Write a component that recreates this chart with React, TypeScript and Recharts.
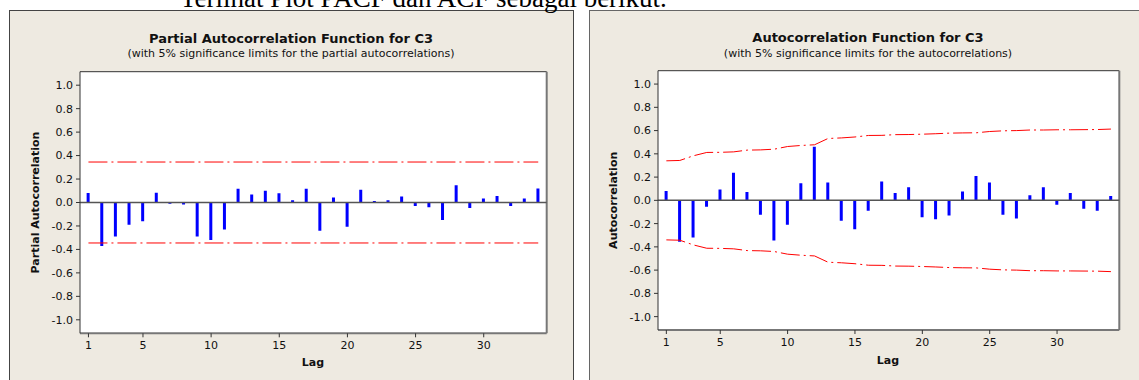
import React from "react";
import {
  ComposedChart,
  Bar,
  Line,
  XAxis,
  YAxis,
  ReferenceLine,
  ReferenceArea,
} from "recharts";

// lags 1..34
const lags = [
  1, 2, 3, 4, 5, 6, 7, 8, 9, 10, 11, 12, 13, 14, 15, 16, 17,
  18, 19, 20, 21, 22, 23, 24, 25, 26, 27, 28, 29, 30, 31, 32, 33, 34,
];

const pacfValues = [
  0.08, -0.37, -0.29, -0.19, -0.16, 0.083, -0.01, -0.017, -0.29, -0.32, -0.23,
  0.118, 0.069, 0.1, 0.078, 0.02, 0.118, -0.24, 0.043, -0.207, 0.109, 0.012,
  0.02, 0.052, -0.029, -0.04, -0.15, 0.147, -0.046, 0.034, 0.055, -0.029, 0.034,
  0.12,
];

const acfValues = [
  0.08, -0.355, -0.32, -0.054, 0.094, 0.237, 0.072, -0.123, -0.346, -0.209,
  0.146, 0.46, 0.154, -0.175, -0.249, -0.089, 0.163, 0.063, 0.112, -0.146,
  -0.163, -0.131, 0.077, 0.209, 0.154, -0.123, -0.157, 0.043, 0.112, -0.037,
  0.063, -0.072, -0.089, 0.037,
];

// 5% significance limit of the ACF, per lag
const acfLimits = [
  0.34, 0.343, 0.383, 0.412, 0.413, 0.417, 0.432, 0.434, 0.44, 0.463, 0.472,
  0.478, 0.532, 0.537, 0.545, 0.558, 0.559, 0.565, 0.566, 0.569, 0.573, 0.578,
  0.58, 0.581, 0.592, 0.598, 0.6, 0.605, 0.605, 0.607, 0.607, 0.608, 0.609,
  0.613,
];

const pacfLimit = 0.345;

const xTicks = [1, 5, 10, 15, 20, 25, 30];
const yTicks = [-1.0, -0.8, -0.6, -0.4, -0.2, 0.0, 0.2, 0.4, 0.6, 0.8, 1.0];

const xDomain: [number, number] = [0.38, 34.62];
const yDomain: [number, number] = [-1.115, 1.115];

const FONT = "DejaVu Sans";
const PANEL_BG = "#EEEAE1";
const DASH = "19 4 2 4";

const pacfData = lags.map((lag, i) => ({ lag, v: pacfValues[i] }));
const acfData = lags.map((lag, i) => ({
  lag,
  v: acfValues[i],
  upper: acfLimits[i],
  lower: -acfLimits[i],
}));

interface PlotProps {
  data: any[];
  width: number;
  margin: { top: number; right: number; bottom: number; left: number };
  yAxisWidth: number;
  xAxisHeight: number;
  children?: React.ReactNode;
}

const CorrPlot: React.FC<PlotProps> = ({ data, width, margin, yAxisWidth, xAxisHeight, children }) => {
  return (
    <ComposedChart width={width} height={380} data={data} margin={margin}>
      <XAxis
        dataKey="lag"
        type="number"
        domain={xDomain}
        ticks={xTicks}
        interval={0}
        allowDataOverflow
        height={xAxisHeight}
        tickSize={4}
        tickMargin={4}
        axisLine={{ stroke: "#777", strokeWidth: 2 }}
        tickLine={{ stroke: "#333" }}
        tick={{ fontSize: 11, fill: "#111", fontFamily: FONT }}
      />
      <YAxis
        type="number"
        domain={yDomain}
        ticks={yTicks}
        interval={0}
        allowDataOverflow
        width={yAxisWidth}
        tickSize={4}
        tickMargin={3}
        tickFormatter={(v: number) => v.toFixed(1)}
        axisLine={{ stroke: "#333" }}
        tickLine={{ stroke: "#333" }}
        tick={{ fontSize: 11, fill: "#111", fontFamily: FONT }}
      />
      <ReferenceArea
        x1={xDomain[0]}
        x2={xDomain[1]}
        y1={yDomain[0]}
        y2={yDomain[1]}
        fill="#ffffff"
        fillOpacity={1}
        stroke="none"
      />
      <ReferenceLine y={yDomain[1]} stroke="#333" strokeWidth={1} />
      <ReferenceLine x={xDomain[1]} stroke="#777" strokeWidth={2} />
      <ReferenceLine y={0} stroke="#555" strokeWidth={1.5} />
      <Bar dataKey="v" fill="#0000FF" barSize={3} isAnimationActive={false} />
      {children}
    </ComposedChart>
  );
};

export default function App() {
  return (
    <div
      style={{
        position: "absolute",
        left: 0,
        top: 0,
        width: 1139,
        height: 380,
        overflow: "hidden",
        background: "#ffffff",
      }}
    >
      <div
        style={{
          position: "absolute",
          left: 9,
          top: 10,
          width: 565,
          height: 400,
          boxSizing: "border-box",
          background: PANEL_BG,
          border: "1px solid #444",
        }}
      />
      <div
        style={{
          position: "absolute",
          left: 589,
          top: 10,
          width: 600,
          height: 400,
          boxSizing: "border-box",
          background: PANEL_BG,
          border: "1px solid #666",
        }}
      />

      {/* PACF */}
      <div style={{ position: "absolute", left: 0, top: 0 }}>
        <CorrPlot
          data={pacfData}
          width={580}
          margin={{ top: 71.7, right: 33.3, bottom: 0, left: 0 }}
          yAxisWidth={80}
          xAxisHeight={46.7}
        >
          <ReferenceLine
            segment={[{ x: 1, y: pacfLimit }, { x: 34, y: pacfLimit }]}
            stroke="#FF0000"
            strokeDasharray={DASH}
          />
          <ReferenceLine
            segment={[{ x: 1, y: -pacfLimit }, { x: 34, y: -pacfLimit }]}
            stroke="#FF0000"
            strokeDasharray={DASH}
          />
        </CorrPlot>
      </div>

      {/* ACF */}
      <div style={{ position: "absolute", left: 580, top: 0 }}>
        <CorrPlot
          data={acfData}
          width={559}
          margin={{ top: 70.7, right: 19.7, bottom: 0, left: 0 }}
          yAxisWidth={78}
          xAxisHeight={50}
        >
          <Line
            dataKey="upper"
            type="linear"
            stroke="#FF0000"
            strokeWidth={1}
            strokeDasharray={DASH}
            dot={false}
            isAnimationActive={false}
          />
          <Line
            dataKey="lower"
            type="linear"
            stroke="#FF0000"
            strokeWidth={1}
            strokeDasharray={DASH}
            dot={false}
            isAnimationActive={false}
          />
        </CorrPlot>
      </div>

      <svg
        width={1139}
        height={380}
        style={{ position: "absolute", left: 0, top: 0, pointerEvents: "none" }}
      >
        <text x={180} y={7.3} fontFamily="Liberation Serif" fontSize={27} fill="#000">
          Terlihat Plot PACF dan ACF sebagai berikut.
        </text>

        <text x={291} y={42.7} textAnchor="middle" fontFamily={FONT} fontWeight="bold" fontSize={13} fill="#111">
          Partial Autocorrelation Function for C3
        </text>
        <text x={291} y={57.3} textAnchor="middle" fontFamily={FONT} fontSize={11} fill="#111">
          (with 5% significance limits for the partial autocorrelations)
        </text>
        <text
          transform="translate(35,202.5) rotate(-90)"
          dy="0.35em"
          textAnchor="middle"
          fontFamily={FONT}
          fontWeight="bold"
          fontSize={11}
          fill="#111"
        >
          Partial Autocorrelation
        </text>
        <text x={313} y={366} textAnchor="middle" fontFamily={FONT} fontWeight="bold" fontSize={11} fill="#111">
          Lag
        </text>

        <text x={868} y={41.7} textAnchor="middle" fontFamily={FONT} fontWeight="bold" fontSize={13} fill="#111">
          Autocorrelation Function for C3
        </text>
        <text x={868} y={57} textAnchor="middle" fontFamily={FONT} fontSize={11} fill="#111">
          (with 5% significance limits for the autocorrelations)
        </text>
        <text
          transform="translate(613,200.3) rotate(-90)"
          dy="0.35em"
          textAnchor="middle"
          fontFamily={FONT}
          fontWeight="bold"
          fontSize={11}
          fill="#111"
        >
          Autocorrelation
        </text>
        <text x={888} y={364} textAnchor="middle" fontFamily={FONT} fontWeight="bold" fontSize={11} fill="#111">
          Lag
        </text>
      </svg>
    </div>
  );
}
